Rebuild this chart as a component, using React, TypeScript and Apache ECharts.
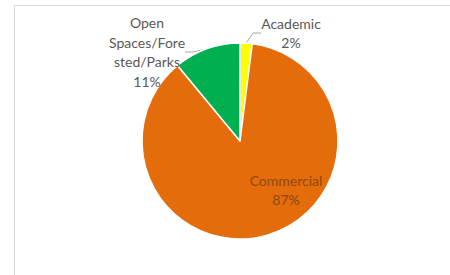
import React, { useEffect, useRef } from "react";
import * as echarts from "echarts";

const categories = ["Academic", "Commercial", "Open Spaces/Forested/Parks"];
const labelTexts = ["Academic", "Commercial", "Open\nSpaces/Fore\nsted/Parks"];
const values = [2, 87, 11];
const colors = ["#FFFF00", "#E46C0A", "#00B050"];

export default function App() {
  const ref = useRef<HTMLDivElement>(null);
  useEffect(() => {
    if (!ref.current) return;
    const chart = echarts.init(ref.current, undefined, { renderer: "svg" });
    const labelPos: Record<number, any> = {
      0: { x: 291, y: 33, align: "center", verticalAlign: "middle" },
      1: { x: 286, y: 190, align: "center", verticalAlign: "middle" },
      2: { x: 147, y: 52, align: "center", verticalAlign: "middle" },
    };
    chart.setOption({
      animation: false,
      backgroundColor: "#ffffff",
      graphic: [
        {
          type: "rect",
          shape: { x: 14.5, y: 5.5, width: 460, height: 300 },
          style: { fill: "none", stroke: "#d9d9d9", lineWidth: 1 },
          silent: true,
        },
      ],
      series: [
        {
          type: "pie",
          center: [240, 141],
          radius: 98,
          startAngle: 90,
          clockwise: true,
          avoidLabelOverlap: false,
          itemStyle: { borderColor: "#ffffff", borderWidth: 1.5 },
          label: {
            show: true,
            position: "outside",
            formatter: (p: any) => `${labelTexts[p.dataIndex]}\n${p.value}%`,
            fontFamily: "Lato",
            fontSize: 14,
            lineHeight: 19.5,
            color: "#595959",
            align: "center",
          },
          labelLine: {
            show: true,
            length: 8,
            length2: 8,
            lineStyle: { color: "#a6a6a6", width: 1 },
          },
          labelLayout: (params: any) => labelPos[params.dataIndex],
          data: categories.map((name, i) => {
            const item: any = { name, value: values[i], itemStyle: { color: colors[i] } };
            if (i === 1) {
              item.label = { position: "inside", color: "#8a4a12" };
              item.labelLine = { show: false };
            }
            return item;
          }),
        },
      ],
    });
    return () => chart.dispose();
  }, []);
  return (
    <div
      ref={ref}
      style={{ position: "fixed", left: 0, top: 0, width: 450, height: 275 }}
    />
  );
}
